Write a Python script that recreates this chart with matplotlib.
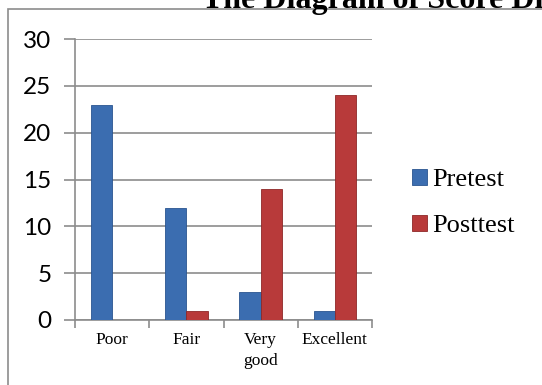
import matplotlib.pyplot as plt
import numpy as np
from matplotlib.patches import Rectangle

categories = ["Poor", "Fair", "Very\ngood", "Excellent"]
pretest = [23, 12, 3, 1]
posttest = [0, 1, 14, 24]
yticks = [0, 5, 10, 15, 20, 25, 30]

fig = plt.figure(figsize=(5.42, 3.85), dpi=100)
ax = fig.add_axes([75 / 542, 1 - 320 / 385, (372 - 75) / 542, (320 - 39) / 385])

x = np.arange(len(categories))
w = 0.285
ax.bar(x - w / 2, pretest, w, color="#3b6db0", edgecolor="#2a5590", linewidth=0.6,
       label="Pretest", zorder=3)
ax.bar(x + w / 2, posttest, w, color="#b83a3a", edgecolor="#8e2828", linewidth=0.6,
       label="Posttest", zorder=3)

ax.set_xlim(-0.5, len(categories) - 0.5)
ax.set_ylim(0, 30)
ax.set_yticks(yticks)
ax.set_yticklabels([str(v) for v in yticks], fontfamily="Lato", fontsize=17.5)
ax.yaxis.grid(True, color="#8c8c8c", linewidth=1.2, zorder=0)

# category ticks sit on the boundaries, labels in the middle
ax.set_xticks(np.arange(len(categories) + 1) - 0.5)
ax.set_xticklabels([])
ax.set_xticks(x, minor=True)
ax.set_xticklabels(categories, minor=True, fontfamily="Liberation Serif",
                   fontsize=12.5, linespacing=1.35)
ax.tick_params(axis="x", which="major", length=6, color="#8c8c8c", width=1.2)
ax.tick_params(axis="x", which="minor", length=0, pad=9)
ax.tick_params(axis="y", length=8, color="#8c8c8c", width=1.2, pad=9)

for s in ["top", "right"]:
    ax.spines[s].set_visible(False)
ax.spines["left"].set_color("#8c8c8c")
ax.spines["bottom"].set_color("#8c8c8c")
ax.spines["left"].set_linewidth(1.2)
ax.spines["bottom"].set_linewidth(1.2)

ax.legend(loc="center left", bbox_to_anchor=(412 / 542, 1 - 203 / 385),
          bbox_transform=fig.transFigure, frameon=False,
          prop={"family": "Liberation Serif", "size": 19},
          handlelength=0.55, handleheight=0.55, handletextpad=0.2,
          labelspacing=0.9, borderaxespad=0, borderpad=0)

# outer chart border (cropped on right and bottom)
fig.patches.append(Rectangle((8 / 542, -0.1), 1.0, 1.1 - 9.5 / 385,
                             transform=fig.transFigure, fill=False,
                             edgecolor="#8c8c8c", linewidth=1.2))

fig.text(202 / 542, 1 - 8 / 385, "The Diagram of Score Distribution",
         fontfamily="Liberation Serif", fontweight="bold", fontsize=23,
         ha="left", va="baseline")

fig.savefig("out.png", dpi=100)
